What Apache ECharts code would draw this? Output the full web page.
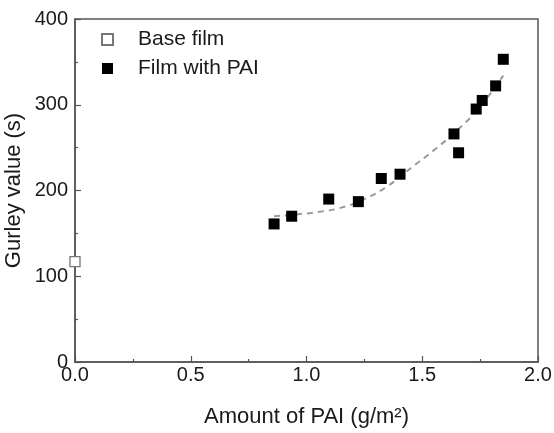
<!DOCTYPE html>
<html>
<head>
<meta charset="utf-8">
<script src="https://cdn.jsdelivr.net/npm/echarts@6/dist/echarts.min.js"></script>
<style>html,body{margin:0;padding:0;background:#fff}#c{width:554px;height:433px}</style>
</head>
<body>
<div id="c"></div>
<script>
var baseX = [0];
var baseY = [117];
var paiX = [0.860, 0.936, 1.096, 1.224, 1.323, 1.404, 1.637, 1.657, 1.733, 1.759, 1.817, 1.850];
var paiY = [161, 170, 190, 187, 214, 219, 266, 244, 295, 305, 322, 353];
var fitX = [0.86, 0.95, 1.05, 1.15, 1.25, 1.35, 1.45, 1.55, 1.65, 1.75, 1.85];
var fitY = [170, 172, 175, 180, 190, 205, 226, 247, 270, 298, 334];
var xTicks = [0, 0.5, 1.0, 1.5, 2.0];
var yTicks = [0, 100, 200, 300, 400];

function zip(a, b) { return a.map(function (v, i) { return [v, b[i]]; }); }

var font = 'Liberation Sans';
var axisCol = '#555';
var txtCol = '#1a1a1a';
var chart = echarts.init(document.getElementById('c'));
chart.setOption({
  animation: false,
  grid: { left: 75, right: 16, top: 19, bottom: 71, containLabel: false, outerBoundsMode: 'none', show: true, borderColor: axisCol, borderWidth: 1.5, backgroundColor: 'transparent' },
  legend: {
    orient: 'vertical', left: 96, top: 24, itemGap: 8, itemWidth: 11, itemHeight: 11,
    textStyle: { fontFamily: font, fontSize: 21, color: txtCol, padding: [0, 0, 0, 20] },
    data: [
      { name: 'Base film', icon: 'rect' },
      { name: 'Film with PAI', icon: 'rect' }
    ]
  },
  xAxis: {
    type: 'value', min: xTicks[0], max: xTicks[xTicks.length - 1], interval: 0.5,
    name: 'Amount of PAI (g/m²)', nameLocation: 'middle', nameGap: 44,
    nameTextStyle: { fontFamily: font, fontSize: 22, color: txtCol },
    axisLine: { show: true, lineStyle: { color: axisCol, width: 1.5 } },
    axisTick: { inside: true, length: 6, lineStyle: { color: axisCol, width: 1.2 } },
    minorTick: { show: true, splitNumber: 2, length: 3, lineStyle: { color: axisCol, width: 1.2 } },
    axisLabel: { fontFamily: font, fontSize: 20, color: txtCol, margin: 3, formatter: function (v) { return v.toFixed(1); } },
    splitLine: { show: false }
  },
  yAxis: {
    type: 'value', min: yTicks[0], max: yTicks[yTicks.length - 1], interval: 100,
    name: 'Gurley value (s)', nameLocation: 'middle', nameGap: 50, nameMoveOverlap: false,
    nameTextStyle: { fontFamily: font, fontSize: 22, color: txtCol },
    axisLine: { show: true, lineStyle: { color: axisCol, width: 1.5 } },
    axisTick: { inside: true, length: 6, lineStyle: { color: axisCol, width: 1.2 } },
    minorTick: { show: true, splitNumber: 2, length: 3, lineStyle: { color: axisCol, width: 1.2 } },
    axisLabel: { fontFamily: font, fontSize: 20, color: txtCol, margin: 7 },
    splitLine: { show: false }
  },
  series: [
    {
      name: 'Fit', type: 'line', data: zip(fitX, fitY), smooth: true, showSymbol: false, symbol: 'none',
      lineStyle: { color: '#9a9a9a', width: 2, type: [6, 5] }, z: 1
    },
    {
      name: 'Base film', type: 'scatter', data: zip(baseX, baseY), symbol: 'rect', symbolSize: 10,
      itemStyle: { color: '#fff', borderColor: '#777', borderWidth: 1.3, opacity: 1 }, z: 3
    },
    {
      name: 'Film with PAI', type: 'scatter', data: zip(paiX, paiY), symbol: 'rect', symbolSize: 11,
      itemStyle: { color: '#000', opacity: 1 }, z: 3
    }
  ]
});
</script>
</body>
</html>
